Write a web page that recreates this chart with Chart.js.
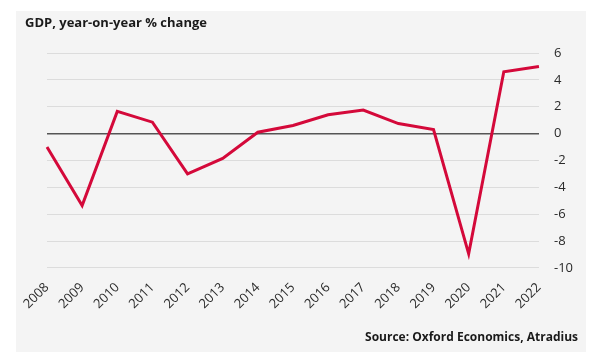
<!DOCTYPE html>
<html>
<head>
<meta charset="utf-8">
<script src="https://cdn.jsdelivr.net/npm/chart.js@4"></script>
<style>
  html, body { margin: 0; padding: 0; background: #fff; }
  #wrap { width: 600px; height: 360px; position: relative; }
</style>
</head>
<body>
<div id="wrap"><canvas id="gdpChart" width="600" height="360"></canvas></div>
<script>
// data
const years = ['2008', '2009', '2010', '2011', '2012', '2013', '2014', '2015',
  '2016', '2017', '2018', '2019', '2020', '2021', '2022'];
const gdpChange = [-1.0, -5.35, 1.65, 0.85, -3.0, -1.85, 0.1, 0.6,
  1.4, 1.75, 0.75, 0.3, -8.95, 4.6, 5.0];
const yTicks = [6, 4, 2, 0, -2, -4, -6, -8, -10];

const titleText = 'GDP, year-on-year % change';
const sourceText = 'Source: Oxford Economics, Atradius';
const FONT = '"Open Sans", "DejaVu Sans", sans-serif';

// grey panel behind everything, plus title and source lines
const panelPlugin = {
  id: 'panel',
  beforeDraw(chart) {
    const ctx = chart.ctx;
    ctx.save();
    ctx.fillStyle = '#f4f4f4';
    ctx.fillRect(16, 11, 570, 341);
    ctx.restore();
  },
  afterDraw(chart) {
    const ctx = chart.ctx;
    ctx.save();
    ctx.fillStyle = '#1a1a1a';
    ctx.font = 'bold 13px ' + FONT;
    ctx.textBaseline = 'middle';
    ctx.textAlign = 'left';
    ctx.fillText(titleText, 25, 23);
    ctx.font = 'bold 12px ' + FONT;
    ctx.textAlign = 'right';
    ctx.fillText(sourceText, 578, 338);
    ctx.restore();
  }
};

new Chart(document.getElementById('gdpChart'), {
  type: 'line',
  data: {
    labels: years,
    datasets: [{
      label: 'GDP',
      data: gdpChange,
      borderColor: '#d4093a',
      borderWidth: 3,
      pointRadius: 0,
      tension: 0,
      fill: false
    }]
  },
  options: {
    responsive: false,
    animation: false,
    layout: { padding: { top: 53, left: 47, right: 12, bottom: 44 } },
    plugins: {
      legend: { display: false },
      tooltip: { enabled: false }
    },
    scales: {
      x: {
        offset: false,
        grid: { display: false },
        border: { display: false },
        ticks: {
          color: '#2a2a2a',
          font: { family: FONT, size: 13 },
          minRotation: 45,
          maxRotation: 45,
          padding: 4
        }
      },
      y: {
        position: 'right',
        min: -10,
        max: 6,
        afterBuildTicks(axis) {
          axis.ticks = yTicks.map(v => ({ value: v }));
        },
        border: { display: false },
        grid: {
          drawTicks: false,
          color: ctx => ctx.tick && ctx.tick.value === 0 ? '#555' : '#dcdcdc',
          lineWidth: ctx => ctx.tick && ctx.tick.value === 0 ? 1.5 : 1
        },
        ticks: {
          color: '#2a2a2a',
          font: { family: FONT, size: 13 },
          padding: 15
        }
      }
    }
  },
  plugins: [panelPlugin]
});
</script>
</body>
</html>
